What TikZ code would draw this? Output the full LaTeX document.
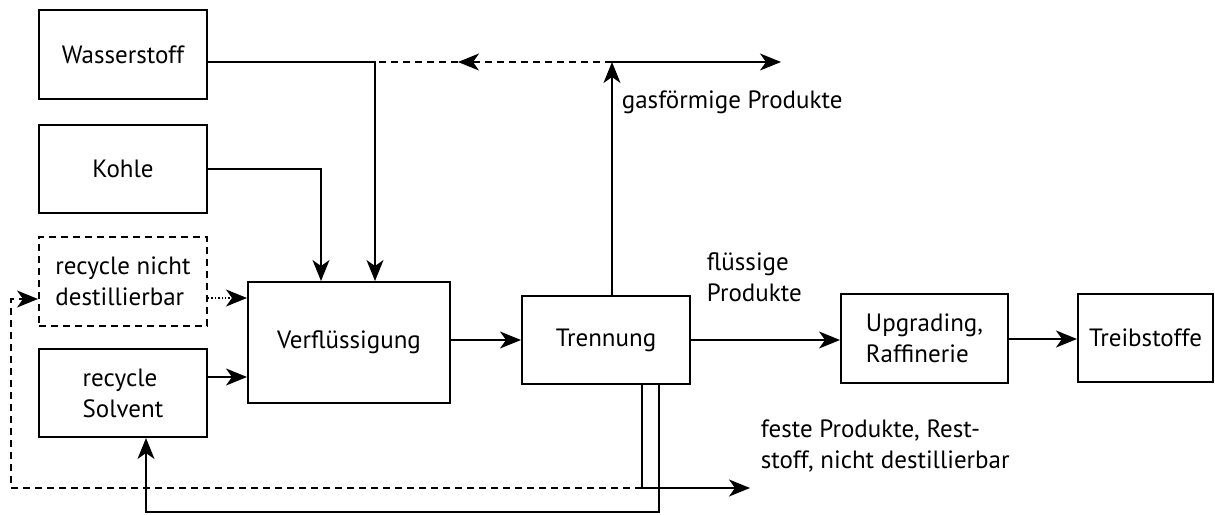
\documentclass[tikz,border=0pt]{standalone}
\usepackage{fontspec}
\setmainfont{PT Sans}
\usetikzlibrary{arrows.meta}
\begin{document}
\begin{tikzpicture}[x=1pt,y=-1pt,
  font=\fontsize{25}{31}\selectfont,
  line width=1.8pt,
  blk/.style={draw, rectangle, inner sep=0pt, align=left, line width=2pt},
  arr/.style={-{Stealth[length=21pt,width=17pt,inset=6pt]}},
  dsh/.style={dash pattern=on 7pt off 5pt},
  lbl/.style={anchor=base west, inner sep=0pt, align=left}]
\useasboundingbox (0,0) rectangle (1215,514);

% process blocks
\node[blk, minimum width=168pt, minimum height=89pt] (wass) at (123,54.5) {Wasserstoff};
\node[blk, minimum width=168pt, minimum height=88pt] (kohle) at (123,169) {Kohle};
\node[blk, dsh, minimum width=168pt, minimum height=89pt] (rnd) at (123,281.5) {recycle nicht\\destillierbar};
\node[blk, minimum width=168pt, minimum height=88pt] (rsol) at (123,393) {recycle\\Solvent};
\node[blk, minimum width=202pt, minimum height=121pt] (verf) at (349,342.5) {Verflüssigung};
\node[blk, minimum width=168pt, minimum height=88pt] (trenn) at (606,340) {Trennung};
\node[blk, minimum width=167pt, minimum height=89pt] (upg) at (924.5,338.5) {Upgrading,\\Raffinerie};
\node[blk, minimum width=135pt, minimum height=88pt] (treib) at (1145.5,338) {Treibstoffe};

% junction points
\coordinate (h2) at (375,62);
\coordinate (gas) at (612,62);
\coordinate (gasend) at (781,62);
\coordinate (hback) at (458,62);
\coordinate (k) at (321,169);
\coordinate (solid) at (642,488);
\coordinate (solidend) at (750,488);
\coordinate (loopL) at (11,488);
\coordinate (loopT) at (11,299);
\coordinate (sol) at (659,512);
\coordinate (solL) at (146,512);

% hydrogen and coal feed
\draw[arr] (wass.east |- h2) -- (h2) -- (h2 |- verf.north);
\draw[arr] (kohle.east |- k) -- (k) -- (k |- verf.north);

% recycle feeds
\draw[arr, dotted, line width=1.4pt] (rnd.east |- 0,298) -- (verf.west |- 0,298);
\draw[arr] (rsol.east |- 0,377) -- (verf.west |- 0,377);

% main line
\draw[arr] (verf.east |- 0,340) -- (trenn.west |- 0,340);
\draw[arr] (trenn.east |- 0,340) -- (upg.west |- 0,340);
\draw[arr] (upg.east |- 0,339) -- (treib.west |- 0,339);

% gaseous products
\draw[arr] (trenn.north -| gas) -- (gas);
\draw[arr] (gas) -- (gasend);
\draw[arr, dsh] (gas) -- (hback);
\draw[dsh] (hback) -- (h2);

% solid products and recycle loops
\draw[arr] (trenn.south -| solid) -- (solid) -- (solidend);
\draw[arr, dsh] (solid) -- (loopL) -- (loopT) -- (rnd.west |- loopT);
\draw[arr] (trenn.south -| sol) -- (sol) -- (solL) -- (rsol.south -| solL);

% stream labels
\node[lbl] (lgas) at (621,108) {gasförmige Produkte};
\node[lbl] (lliq) at (706,301) {flüssige\\Produkte};
\node[lbl] (lsol) at (760,468) {feste Produkte, Rest-\\stoff, nicht destillierbar};
\end{tikzpicture}
\end{document}
